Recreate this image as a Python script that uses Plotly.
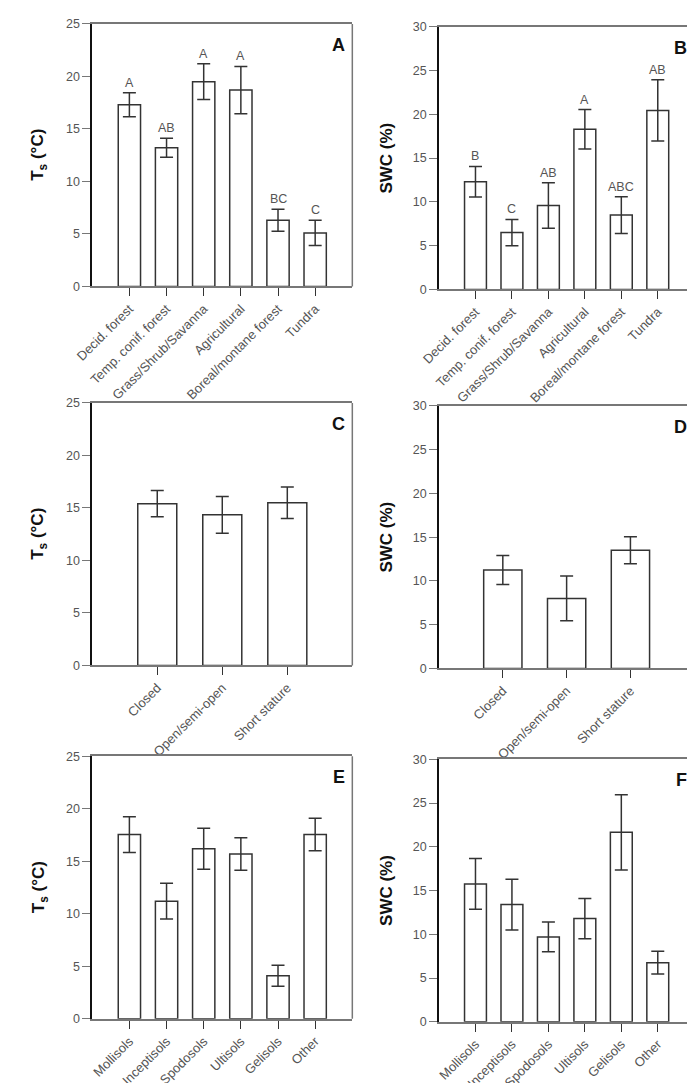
import plotly.graph_objects as go

# vegetation types (panels A, B)
veg = ["Decid. forest", "Temp. conif. forest", "Grass/Shrub/Savanna",
       "Agricultural", "Boreal/montane forest", "Tundra"]
veg_ts = [17.3, 13.2, 19.5, 18.7, 6.3, 5.1]
veg_ts_err = [1.15, 0.9, 1.7, 2.25, 1.05, 1.2]
veg_ts_letters = ["A", "AB", "A", "A", "BC", "C"]
veg_swc = [12.3, 6.5, 9.6, 18.3, 8.5, 20.45]
veg_swc_err = [1.75, 1.5, 2.6, 2.25, 2.1, 3.5]
veg_swc_letters = ["B", "C", "AB", "A", "ABC", "AB"]

# canopy structure (panels C, D)
canopy = ["Closed", "Open/semi-open", "Short stature"]
can_ts = [15.4, 14.35, 15.5]
can_ts_err = [1.25, 1.75, 1.5]
can_swc = [11.25, 8.0, 13.5]
can_swc_err = [1.65, 2.55, 1.55]

# soil orders (panels E, F)
soil = ["Mollisols", "Inceptisols", "Spodosols", "Ultisols", "Gelisols", "Other"]
soil_ts = [17.55, 11.2, 16.2, 15.7, 4.1, 17.55]
soil_ts_err = [1.7, 1.7, 1.95, 1.55, 1.0, 1.55]
soil_swc = [15.75, 13.4, 9.7, 11.8, 21.65, 6.75]
soil_swc_err = [2.9, 2.9, 1.7, 2.3, 4.3, 1.3]

W, H = 695, 1083
DARK = "#333333"
GRAY = "#777777"
TXT = "#555555"
FONT = "Arial, Liberation Sans, sans-serif"

# plot boxes in pixels: (left, right, top, bottom)
boxes = {
    1: (68, 335, 9, 275), 2: (424, 686, 12, 278),
    3: (68, 335, 393, 659), 4: (424, 686, 396, 662),
    5: (68, 335, 751, 1017), 6: (424, 686, 754, 1020),
}

panels = [
    (1, veg, veg_ts, veg_ts_err, veg_ts_letters, 25, "A"),
    (2, veg, veg_swc, veg_swc_err, veg_swc_letters, 30, "B"),
    (3, canopy, can_ts, can_ts_err, None, 25, "C"),
    (4, canopy, can_swc, can_swc_err, None, 30, "D"),
    (5, soil, soil_ts, soil_ts_err, None, 25, "E"),
    (6, soil, soil_swc, soil_swc_err, None, 30, "F"),
]

fig = go.Figure()
annotations = []
shapes = []

for i, cats, vals, errs, letters, ymax, tag in panels:
    l, r, t, b = boxes[i]
    xa = "x" if i == 1 else f"x{i}"
    ya = "y" if i == 1 else f"y{i}"
    fig.add_trace(go.Bar(
        x=cats, y=vals, xaxis=xa, yaxis=ya, width=0.6,
        marker=dict(color="white", line=dict(color=DARK, width=1.5)),
        error_y=dict(type="data", array=errs, color=DARK, thickness=1.5, width=6.5),
        showlegend=False,
    ))
    fig.update_layout(**{
        f"xaxis{'' if i == 1 else i}": dict(
            domain=[l / W, r / W], anchor=ya, type="category",
            range=[-1, len(cats)], showline=True, linecolor=GRAY, linewidth=1.5,
            mirror=True, ticks="outside", ticklen=8, tickcolor=DARK, tickwidth=1,
            tickangle=-45, tickfont=dict(family=FONT, size=13, color=TXT),
            showgrid=False, zeroline=False, fixedrange=True,
        ),
        f"yaxis{'' if i == 1 else i}": dict(
            domain=[1 - b / H, 1 - t / H], anchor=xa, range=[0, ymax],
            dtick=5, showline=True, linecolor="#111111", linewidth=1.5,
            ticks="outside", ticklen=8, tickcolor=GRAY, tickwidth=1,
            tickfont=dict(family=FONT, size=12.5, color=TXT),
            showgrid=False, zeroline=False,
        ),
    })
    # right frame line
    shapes.append(dict(type="line", xref=f"{xa} domain", yref=f"{ya} domain",
                       x0=1, x1=1, y0=0, y1=1, line=dict(color=GRAY, width=1.5)))
    # panel letter
    annotations.append(dict(text=f"<b>{tag}</b>", xref=f"{xa} domain", yref=f"{ya} domain",
                            x=1, y=1, xanchor="right", yanchor="top", xshift=-5, yshift=-9,
                            showarrow=False, font=dict(family=FONT, size=18, color="#111111")))
    # y-axis title
    title = "<b>T<sub>s</sub> (°C)</b>" if ymax == 25 else "<b>SWC (%)</b>"
    annotations.append(dict(text=title, xref="paper", yref=f"{ya} domain",
                            x=(l - 54) / W, y=0.5, xanchor="center", yanchor="middle",
                            textangle=-90, showarrow=False,
                            font=dict(family=FONT, size=17, color="#111111")))
    # significance letters
    if letters:
        for c, v, e, s in zip(cats, vals, errs, letters):
            annotations.append(dict(text=s, x=c, y=v + e, xref=xa, yref=ya,
                                    xanchor="center", yanchor="bottom", yshift=1,
                                    showarrow=False,
                                    font=dict(family=FONT, size=12.5, color=TXT)))

fig.update_layout(
    width=W, height=H, margin=dict(l=0, r=0, t=0, b=0),
    plot_bgcolor="white", paper_bgcolor="white",
    bargap=0.4, annotations=annotations, shapes=shapes,
    font=dict(family=FONT),
)

fig.write_html("out.html")
